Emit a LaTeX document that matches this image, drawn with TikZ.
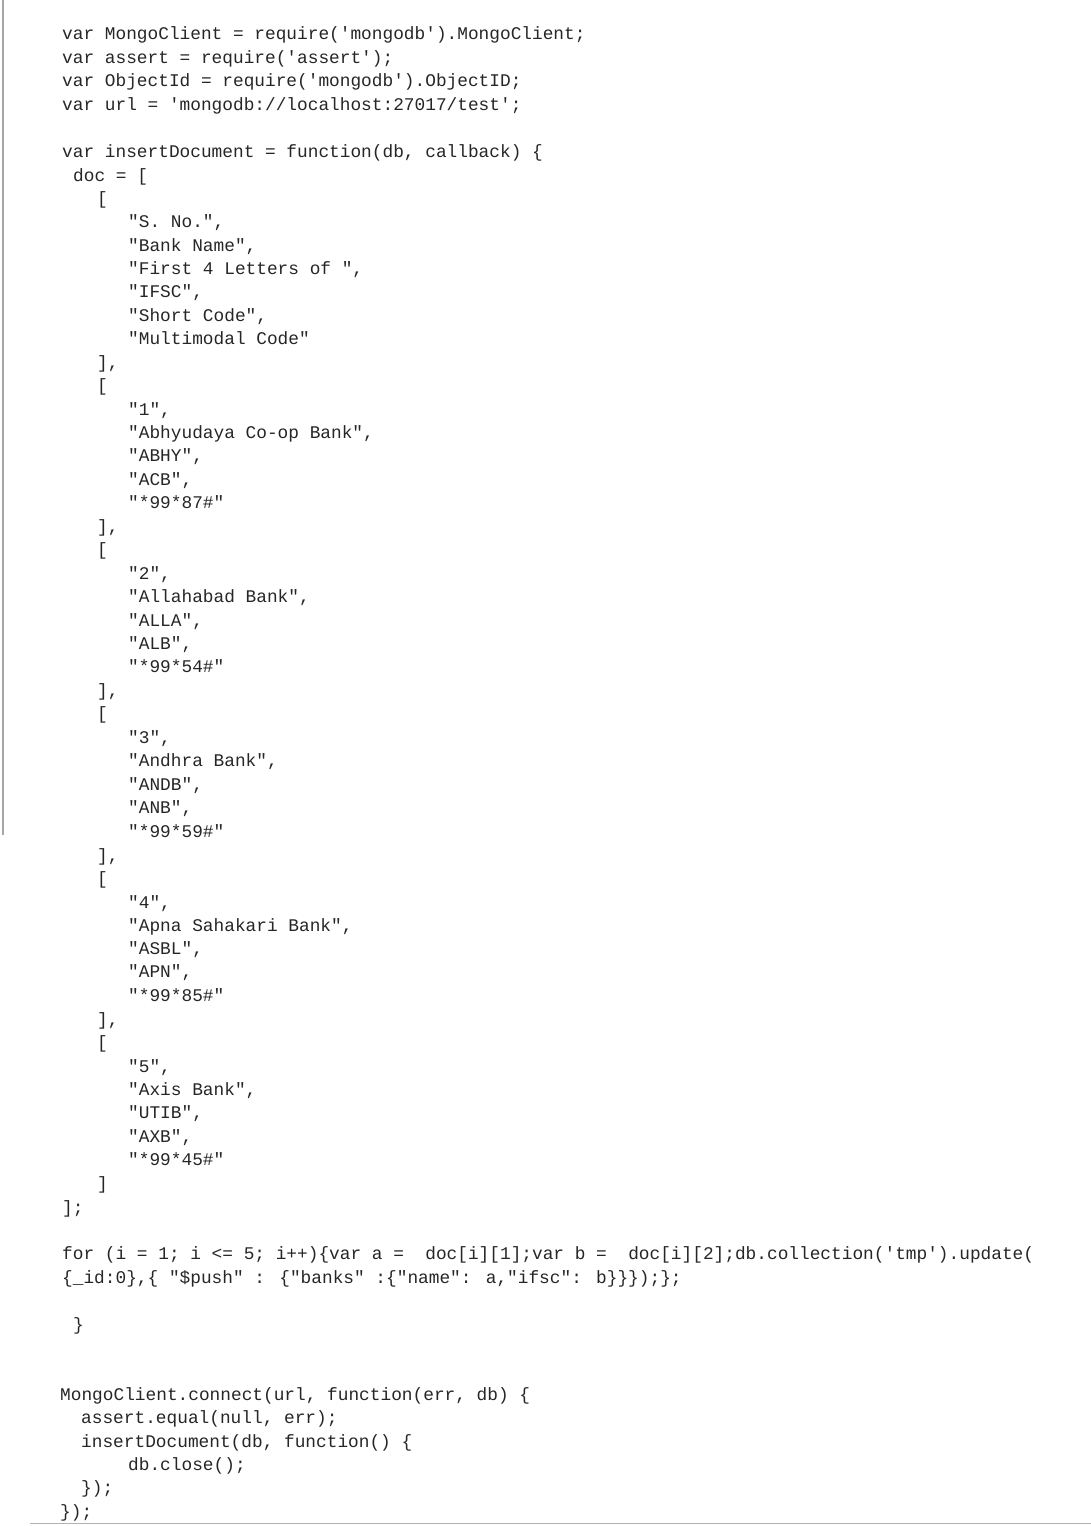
\documentclass[tikz,border=0pt]{standalone}
\usepackage{fontspec}
\newfontfamily\codefont{Liberation Mono}
\begin{document}
\begin{tikzpicture}[x=1pt,y=-1pt,
  cl/.style={anchor=base west,inner sep=0pt,font=\codefont\fontsize{17.8}{20}\selectfont,text=black!85}]
\useasboundingbox (0,0) rectangle (1091,1526);
\draw[gray!70,line width=1.2pt] (3,0) -- (3,835);
\draw[gray!60,line width=1pt] (30,1523) -- (1091,1523);
\node[cl] (a1) at (62,39) {var MongoClient = require('mongodb').MongoClient;};
\node[cl] (a2) at (62,63) {var assert = require('assert');};
\node[cl] (a3) at (62,86) {var ObjectId = require('mongodb').ObjectID;};
\node[cl] (a4) at (62,110) {var url = 'mongodb://localhost:27017/test';};
\node[cl] (a5) at (62,157) {var insertDocument = function(db, callback) \{};
\node[cl] (a6) at (73,181) {doc = [};
\node[cl] (b0) at (97,204) {[};
\node[cl] (b1) at (128,227) {"S. No.",};
\node[cl] (b2) at (128,251) {"Bank Name",};
\node[cl] (b3) at (128,274) {"First 4 Letters of ",};
\node[cl] (b4) at (128,297) {"IFSC",};
\node[cl] (b5) at (128,321) {"Short Code",};
\node[cl] (b6) at (128,344) {"Multimodal Code"};
\node[cl] (b7) at (97,368) {],};
\node[cl] (c0) at (97,391) {[};
\node[cl] (c1) at (128,415) {"1",};
\node[cl] (c2) at (128,438) {"Abhyudaya Co-op Bank",};
\node[cl] (c3) at (128,461) {"ABHY",};
\node[cl] (c4) at (128,485) {"ACB",};
\node[cl] (c5) at (128,508) {"*99*87\#"};
\node[cl] (c6) at (97,532) {],};
\node[cl] (d0) at (97,555) {[};
\node[cl] (d1) at (128,579) {"2",};
\node[cl] (d2) at (128,602) {"Allahabad Bank",};
\node[cl] (d3) at (128,626) {"ALLA",};
\node[cl] (d4) at (128,649) {"ALB",};
\node[cl] (d5) at (128,672) {"*99*54\#"};
\node[cl] (d6) at (97,696) {],};
\node[cl] (e0) at (97,719) {[};
\node[cl] (e1) at (128,743) {"3",};
\node[cl] (e2) at (128,766) {"Andhra Bank",};
\node[cl] (e3) at (128,790) {"ANDB",};
\node[cl] (e4) at (128,813) {"ANB",};
\node[cl] (e5) at (128,837) {"*99*59\#"};
\node[cl] (e6) at (97,861) {],};
\node[cl] (f0) at (97,884) {[};
\node[cl] (f1) at (128,908) {"4",};
\node[cl] (f2) at (128,931) {"Apna Sahakari Bank",};
\node[cl] (f3) at (128,954) {"ASBL",};
\node[cl] (f4) at (128,977) {"APN",};
\node[cl] (f5) at (128,1001) {"*99*85\#"};
\node[cl] (f6) at (97,1025) {],};
\node[cl] (g0) at (97,1048) {[};
\node[cl] (g1) at (128,1072) {"5",};
\node[cl] (g2) at (128,1095) {"Axis Bank",};
\node[cl] (g3) at (128,1118) {"UTIB",};
\node[cl] (g4) at (128,1142) {"AXB",};
\node[cl] (g5) at (128,1165) {"*99*45\#"};
\node[cl] (g6) at (97,1189) {]};
\node[cl] (h0) at (62,1213) {];};
\node[cl] (h1) at (62,1259) {for (i = 1; i <= 5; i++)\{var a =~~doc[i][1];var b =~~doc[i][2];db.collection('tmp').update(};
\node[cl] (h2) at (62,1283) {\{\_id:0\},\{ "\$push" : \{"banks" :\{"name": a,"ifsc": b\}\}\});\};};
\node[cl] (h3) at (73,1330) {\}};
\node[cl] (i1) at (60,1400) {MongoClient.connect(url, function(err, db) \{};
\node[cl] (i2) at (81,1423) {assert.equal(null, err);};
\node[cl] (i3) at (81,1447) {insertDocument(db, function() \{};
\node[cl] (i4) at (128,1470) {db.close();};
\node[cl] (i5) at (81,1493) {\});};
\node[cl] (i6) at (60,1517) {\});};
\end{tikzpicture}
\end{document}
